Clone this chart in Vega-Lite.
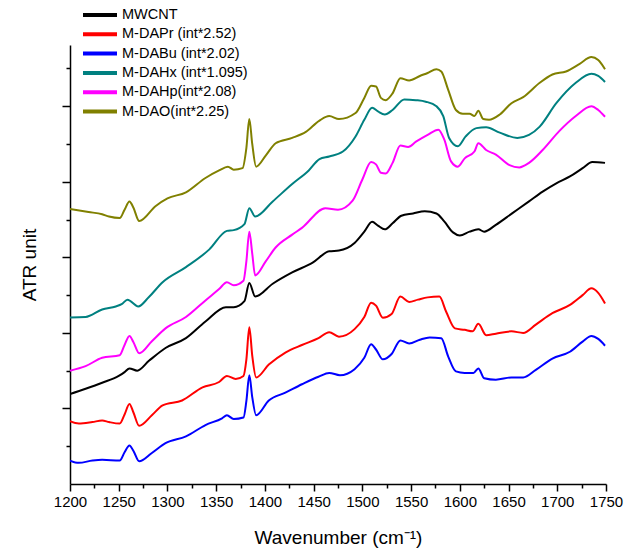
{
  "$schema": "https://vega.github.io/schema/vega-lite/v6.json",
  "width": 536,
  "height": 439,
  "autosize": {"type": "none"},
  "padding": {"left": 70, "top": 45, "right": 18, "bottom": 65},
  "background": "white",
  "config": {
    "view": {"stroke": null},
    "font": "Liberation Sans",
    "axis": {"domainColor": "black", "domainWidth": 1.5, "tickColor": "black", "tickWidth": 1.5, "grid": false, "labelColor": "black", "titleColor": "black", "labelFont": "Liberation Sans", "titleFont": "Liberation Sans", "titleFontWeight": "normal"}
  },
  "data": {"values": [
    {"s":"MWCNT","x":1200,"y":1.19},{"s":"MWCNT","x":1216,"y":1.26},{"s":"MWCNT","x":1233,"y":1.34},{"s":"MWCNT","x":1250,"y":1.43},{"s":"MWCNT","x":1256,"y":1.48},{"s":"MWCNT","x":1261,"y":1.53},{"s":"MWCNT","x":1269,"y":1.5},{"s":"MWCNT","x":1281,"y":1.63},{"s":"MWCNT","x":1298,"y":1.8},{"s":"MWCNT","x":1319,"y":1.93},{"s":"MWCNT","x":1339,"y":2.15},{"s":"MWCNT","x":1360,"y":2.34},{"s":"MWCNT","x":1368,"y":2.34},{"s":"MWCNT","x":1379,"y":2.42},{"s":"MWCNT","x":1384,"y":2.66},{"s":"MWCNT","x":1390,"y":2.48},{"s":"MWCNT","x":1408,"y":2.65},{"s":"MWCNT","x":1428,"y":2.8},{"s":"MWCNT","x":1449,"y":2.93},{"s":"MWCNT","x":1466,"y":3.08},{"s":"MWCNT","x":1476,"y":3.09},{"s":"MWCNT","x":1492,"y":3.19},{"s":"MWCNT","x":1502,"y":3.34},{"s":"MWCNT","x":1510,"y":3.47},{"s":"MWCNT","x":1516,"y":3.42},{"s":"MWCNT","x":1523,"y":3.37},{"s":"MWCNT","x":1531,"y":3.45},{"s":"MWCNT","x":1540,"y":3.55},{"s":"MWCNT","x":1552,"y":3.58},{"s":"MWCNT","x":1564,"y":3.61},{"s":"MWCNT","x":1576,"y":3.58},{"s":"MWCNT","x":1584,"y":3.475},{"s":"MWCNT","x":1593,"y":3.33},{"s":"MWCNT","x":1600,"y":3.29},{"s":"MWCNT","x":1610,"y":3.34},{"s":"MWCNT","x":1619,"y":3.37},{"s":"MWCNT","x":1625,"y":3.34},{"s":"MWCNT","x":1637,"y":3.43},{"s":"MWCNT","x":1654,"y":3.585},{"s":"MWCNT","x":1671,"y":3.74},{"s":"MWCNT","x":1685,"y":3.87},{"s":"MWCNT","x":1699,"y":3.98},{"s":"MWCNT","x":1713,"y":4.07},{"s":"MWCNT","x":1726,"y":4.18},{"s":"MWCNT","x":1736,"y":4.26},{"s":"MWCNT","x":1749,"y":4.25},

    {"s":"M-DAPr (int*2.52)","x":1200,"y":0.83},{"s":"M-DAPr (int*2.52)","x":1209,"y":0.8},{"s":"M-DAPr (int*2.52)","x":1223,"y":0.82},{"s":"M-DAPr (int*2.52)","x":1233,"y":0.84},{"s":"M-DAPr (int*2.52)","x":1240,"y":0.82},{"s":"M-DAPr (int*2.52)","x":1251,"y":0.8},{"s":"M-DAPr (int*2.52)","x":1256,"y":0.92},{"s":"M-DAPr (int*2.52)","x":1261,"y":1.06},{"s":"M-DAPr (int*2.52)","x":1265,"y":0.95},{"s":"M-DAPr (int*2.52)","x":1271,"y":0.77},{"s":"M-DAPr (int*2.52)","x":1284,"y":0.91},{"s":"M-DAPr (int*2.52)","x":1295,"y":1.04},{"s":"M-DAPr (int*2.52)","x":1315,"y":1.105},{"s":"M-DAPr (int*2.52)","x":1336,"y":1.28},{"s":"M-DAPr (int*2.52)","x":1353,"y":1.35},{"s":"M-DAPr (int*2.52)","x":1361,"y":1.43},{"s":"M-DAPr (int*2.52)","x":1370,"y":1.39},{"s":"M-DAPr (int*2.52)","x":1378,"y":1.43},{"s":"M-DAPr (int*2.52)","x":1381,"y":1.65},{"s":"M-DAPr (int*2.52)","x":1384,"y":2.075},{"s":"M-DAPr (int*2.52)","x":1387,"y":1.7},{"s":"M-DAPr (int*2.52)","x":1391,"y":1.41},{"s":"M-DAPr (int*2.52)","x":1404,"y":1.58},{"s":"M-DAPr (int*2.52)","x":1421,"y":1.74},{"s":"M-DAPr (int*2.52)","x":1438,"y":1.84},{"s":"M-DAPr (int*2.52)","x":1455,"y":1.93},{"s":"M-DAPr (int*2.52)","x":1466,"y":2.01},{"s":"M-DAPr (int*2.52)","x":1476,"y":1.95},{"s":"M-DAPr (int*2.52)","x":1492,"y":2.05},{"s":"M-DAPr (int*2.52)","x":1502,"y":2.21},{"s":"M-DAPr (int*2.52)","x":1509,"y":2.4},{"s":"M-DAPr (int*2.52)","x":1514,"y":2.36},{"s":"M-DAPr (int*2.52)","x":1521,"y":2.2},{"s":"M-DAPr (int*2.52)","x":1530,"y":2.25},{"s":"M-DAPr (int*2.52)","x":1539,"y":2.48},{"s":"M-DAPr (int*2.52)","x":1548,"y":2.41},{"s":"M-DAPr (int*2.52)","x":1557,"y":2.44},{"s":"M-DAPr (int*2.52)","x":1567,"y":2.47},{"s":"M-DAPr (int*2.52)","x":1579,"y":2.48},{"s":"M-DAPr (int*2.52)","x":1586,"y":2.28},{"s":"M-DAPr (int*2.52)","x":1595,"y":2.06},{"s":"M-DAPr (int*2.52)","x":1605,"y":2.04},{"s":"M-DAPr (int*2.52)","x":1613,"y":2.02},{"s":"M-DAPr (int*2.52)","x":1619,"y":2.12},{"s":"M-DAPr (int*2.52)","x":1627,"y":1.97},{"s":"M-DAPr (int*2.52)","x":1637,"y":1.99},{"s":"M-DAPr (int*2.52)","x":1653,"y":2.02},{"s":"M-DAPr (int*2.52)","x":1665,"y":2.0},{"s":"M-DAPr (int*2.52)","x":1678,"y":2.11},{"s":"M-DAPr (int*2.52)","x":1695,"y":2.26},{"s":"M-DAPr (int*2.52)","x":1713,"y":2.37},{"s":"M-DAPr (int*2.52)","x":1726,"y":2.5},{"s":"M-DAPr (int*2.52)","x":1735,"y":2.59},{"s":"M-DAPr (int*2.52)","x":1742,"y":2.53},{"s":"M-DAPr (int*2.52)","x":1749,"y":2.39},

    {"s":"M-DABu (int*2.02)","x":1200,"y":0.31},{"s":"M-DABu (int*2.02)","x":1209,"y":0.28},{"s":"M-DABu (int*2.02)","x":1223,"y":0.31},{"s":"M-DABu (int*2.02)","x":1233,"y":0.32},{"s":"M-DABu (int*2.02)","x":1251,"y":0.31},{"s":"M-DABu (int*2.02)","x":1256,"y":0.42},{"s":"M-DABu (int*2.02)","x":1261,"y":0.51},{"s":"M-DABu (int*2.02)","x":1265,"y":0.44},{"s":"M-DABu (int*2.02)","x":1271,"y":0.3},{"s":"M-DABu (int*2.02)","x":1284,"y":0.41},{"s":"M-DABu (int*2.02)","x":1298,"y":0.54},{"s":"M-DABu (int*2.02)","x":1319,"y":0.63},{"s":"M-DABu (int*2.02)","x":1339,"y":0.78},{"s":"M-DABu (int*2.02)","x":1356,"y":0.87},{"s":"M-DABu (int*2.02)","x":1361,"y":0.91},{"s":"M-DABu (int*2.02)","x":1368,"y":0.86},{"s":"M-DABu (int*2.02)","x":1378,"y":0.88},{"s":"M-DABu (int*2.02)","x":1381,"y":1.1},{"s":"M-DABu (int*2.02)","x":1384,"y":1.44},{"s":"M-DABu (int*2.02)","x":1387,"y":1.15},{"s":"M-DABu (int*2.02)","x":1391,"y":0.91},{"s":"M-DABu (int*2.02)","x":1404,"y":1.105},{"s":"M-DABu (int*2.02)","x":1421,"y":1.21},{"s":"M-DABu (int*2.02)","x":1438,"y":1.32},{"s":"M-DABu (int*2.02)","x":1455,"y":1.42},{"s":"M-DABu (int*2.02)","x":1466,"y":1.47},{"s":"M-DABu (int*2.02)","x":1477,"y":1.44},{"s":"M-DABu (int*2.02)","x":1492,"y":1.52},{"s":"M-DABu (int*2.02)","x":1502,"y":1.67},{"s":"M-DABu (int*2.02)","x":1509,"y":1.85},{"s":"M-DABu (int*2.02)","x":1514,"y":1.78},{"s":"M-DABu (int*2.02)","x":1521,"y":1.65},{"s":"M-DABu (int*2.02)","x":1530,"y":1.72},{"s":"M-DABu (int*2.02)","x":1539,"y":1.9},{"s":"M-DABu (int*2.02)","x":1548,"y":1.86},{"s":"M-DABu (int*2.02)","x":1559,"y":1.91},{"s":"M-DABu (int*2.02)","x":1569,"y":1.94},{"s":"M-DABu (int*2.02)","x":1581,"y":1.93},{"s":"M-DABu (int*2.02)","x":1588,"y":1.69},{"s":"M-DABu (int*2.02)","x":1596,"y":1.49},{"s":"M-DABu (int*2.02)","x":1605,"y":1.47},{"s":"M-DABu (int*2.02)","x":1614,"y":1.47},{"s":"M-DABu (int*2.02)","x":1619,"y":1.53},{"s":"M-DABu (int*2.02)","x":1625,"y":1.4},{"s":"M-DABu (int*2.02)","x":1637,"y":1.38},{"s":"M-DABu (int*2.02)","x":1653,"y":1.41},{"s":"M-DABu (int*2.02)","x":1665,"y":1.41},{"s":"M-DABu (int*2.02)","x":1678,"y":1.51},{"s":"M-DABu (int*2.02)","x":1695,"y":1.66},{"s":"M-DABu (int*2.02)","x":1713,"y":1.75},{"s":"M-DABu (int*2.02)","x":1726,"y":1.885},{"s":"M-DABu (int*2.02)","x":1735,"y":1.96},{"s":"M-DABu (int*2.02)","x":1742,"y":1.92},{"s":"M-DABu (int*2.02)","x":1749,"y":1.83},

    {"s":"M-DAHx (int*1.095)","x":1200,"y":2.205},{"s":"M-DAHx (int*1.095)","x":1216,"y":2.21},{"s":"M-DAHx (int*1.095)","x":1233,"y":2.31},{"s":"M-DAHx (int*1.095)","x":1247,"y":2.35},{"s":"M-DAHx (int*1.095)","x":1253,"y":2.38},{"s":"M-DAHx (int*1.095)","x":1259,"y":2.44},{"s":"M-DAHx (int*1.095)","x":1270,"y":2.35},{"s":"M-DAHx (int*1.095)","x":1281,"y":2.475},{"s":"M-DAHx (int*1.095)","x":1295,"y":2.67},{"s":"M-DAHx (int*1.095)","x":1319,"y":2.87},{"s":"M-DAHx (int*1.095)","x":1343,"y":3.105},{"s":"M-DAHx (int*1.095)","x":1361,"y":3.35},{"s":"M-DAHx (int*1.095)","x":1368,"y":3.36},{"s":"M-DAHx (int*1.095)","x":1379,"y":3.44},{"s":"M-DAHx (int*1.095)","x":1384,"y":3.65},{"s":"M-DAHx (int*1.095)","x":1390,"y":3.54},{"s":"M-DAHx (int*1.095)","x":1408,"y":3.74},{"s":"M-DAHx (int*1.095)","x":1428,"y":3.97},{"s":"M-DAHx (int*1.095)","x":1445,"y":4.15},{"s":"M-DAHx (int*1.095)","x":1456,"y":4.3},{"s":"M-DAHx (int*1.095)","x":1466,"y":4.335},{"s":"M-DAHx (int*1.095)","x":1480,"y":4.4},{"s":"M-DAHx (int*1.095)","x":1493,"y":4.6},{"s":"M-DAHx (int*1.095)","x":1502,"y":4.82},{"s":"M-DAHx (int*1.095)","x":1510,"y":4.98},{"s":"M-DAHx (int*1.095)","x":1516,"y":4.93},{"s":"M-DAHx (int*1.095)","x":1523,"y":4.89},{"s":"M-DAHx (int*1.095)","x":1531,"y":4.95},{"s":"M-DAHx (int*1.095)","x":1543,"y":5.09},{"s":"M-DAHx (int*1.095)","x":1555,"y":5.08},{"s":"M-DAHx (int*1.095)","x":1565,"y":5.06},{"s":"M-DAHx (int*1.095)","x":1576,"y":5.0},{"s":"M-DAHx (int*1.095)","x":1583,"y":4.87},{"s":"M-DAHx (int*1.095)","x":1589,"y":4.58},{"s":"M-DAHx (int*1.095)","x":1598,"y":4.47},{"s":"M-DAHx (int*1.095)","x":1606,"y":4.6},{"s":"M-DAHx (int*1.095)","x":1617,"y":4.71},{"s":"M-DAHx (int*1.095)","x":1627,"y":4.72},{"s":"M-DAHx (int*1.095)","x":1641,"y":4.65},{"s":"M-DAHx (int*1.095)","x":1659,"y":4.58},{"s":"M-DAHx (int*1.095)","x":1671,"y":4.62},{"s":"M-DAHx (int*1.095)","x":1682,"y":4.73},{"s":"M-DAHx (int*1.095)","x":1699,"y":5.04},{"s":"M-DAHx (int*1.095)","x":1719,"y":5.31},{"s":"M-DAHx (int*1.095)","x":1735,"y":5.43},{"s":"M-DAHx (int*1.095)","x":1742,"y":5.4},{"s":"M-DAHx (int*1.095)","x":1749,"y":5.32},

    {"s":"M-DAHp(int*2.08)","x":1200,"y":1.5},{"s":"M-DAHp(int*2.08)","x":1216,"y":1.56},{"s":"M-DAHp(int*2.08)","x":1233,"y":1.67},{"s":"M-DAHp(int*2.08)","x":1251,"y":1.705},{"s":"M-DAHp(int*2.08)","x":1256,"y":1.84},{"s":"M-DAHp(int*2.08)","x":1261,"y":1.96},{"s":"M-DAHp(int*2.08)","x":1265,"y":1.88},{"s":"M-DAHp(int*2.08)","x":1271,"y":1.73},{"s":"M-DAHp(int*2.08)","x":1284,"y":1.89},{"s":"M-DAHp(int*2.08)","x":1298,"y":2.06},{"s":"M-DAHp(int*2.08)","x":1319,"y":2.21},{"s":"M-DAHp(int*2.08)","x":1339,"y":2.43},{"s":"M-DAHp(int*2.08)","x":1353,"y":2.58},{"s":"M-DAHp(int*2.08)","x":1361,"y":2.67},{"s":"M-DAHp(int*2.08)","x":1368,"y":2.63},{"s":"M-DAHp(int*2.08)","x":1378,"y":2.69},{"s":"M-DAHp(int*2.08)","x":1381,"y":2.95},{"s":"M-DAHp(int*2.08)","x":1384,"y":3.34},{"s":"M-DAHp(int*2.08)","x":1387,"y":3.05},{"s":"M-DAHp(int*2.08)","x":1390,"y":2.76},{"s":"M-DAHp(int*2.08)","x":1401,"y":2.95},{"s":"M-DAHp(int*2.08)","x":1411,"y":3.13},{"s":"M-DAHp(int*2.08)","x":1428,"y":3.3},{"s":"M-DAHp(int*2.08)","x":1438,"y":3.39},{"s":"M-DAHp(int*2.08)","x":1462,"y":3.65},{"s":"M-DAHp(int*2.08)","x":1475,"y":3.63},{"s":"M-DAHp(int*2.08)","x":1490,"y":3.75},{"s":"M-DAHp(int*2.08)","x":1500,"y":4.03},{"s":"M-DAHp(int*2.08)","x":1509,"y":4.26},{"s":"M-DAHp(int*2.08)","x":1514,"y":4.23},{"s":"M-DAHp(int*2.08)","x":1519,"y":4.12},{"s":"M-DAHp(int*2.08)","x":1524,"y":4.11},{"s":"M-DAHp(int*2.08)","x":1531,"y":4.25},{"s":"M-DAHp(int*2.08)","x":1539,"y":4.48},{"s":"M-DAHp(int*2.08)","x":1547,"y":4.46},{"s":"M-DAHp(int*2.08)","x":1555,"y":4.53},{"s":"M-DAHp(int*2.08)","x":1567,"y":4.62},{"s":"M-DAHp(int*2.08)","x":1578,"y":4.69},{"s":"M-DAHp(int*2.08)","x":1584,"y":4.56},{"s":"M-DAHp(int*2.08)","x":1591,"y":4.27},{"s":"M-DAHp(int*2.08)","x":1598,"y":4.2},{"s":"M-DAHp(int*2.08)","x":1605,"y":4.31},{"s":"M-DAHp(int*2.08)","x":1615,"y":4.4},{"s":"M-DAHp(int*2.08)","x":1619,"y":4.51},{"s":"M-DAHp(int*2.08)","x":1627,"y":4.42},{"s":"M-DAHp(int*2.08)","x":1637,"y":4.36},{"s":"M-DAHp(int*2.08)","x":1651,"y":4.22},{"s":"M-DAHp(int*2.08)","x":1661,"y":4.19},{"s":"M-DAHp(int*2.08)","x":1671,"y":4.25},{"s":"M-DAHp(int*2.08)","x":1685,"y":4.42},{"s":"M-DAHp(int*2.08)","x":1702,"y":4.67},{"s":"M-DAHp(int*2.08)","x":1719,"y":4.87},{"s":"M-DAHp(int*2.08)","x":1735,"y":5.0},{"s":"M-DAHp(int*2.08)","x":1742,"y":4.95},{"s":"M-DAHp(int*2.08)","x":1749,"y":4.86},

    {"s":"M-DAO(int*2.25)","x":1200,"y":3.64},{"s":"M-DAO(int*2.25)","x":1219,"y":3.6},{"s":"M-DAO(int*2.25)","x":1233,"y":3.57},{"s":"M-DAO(int*2.25)","x":1240,"y":3.54},{"s":"M-DAO(int*2.25)","x":1251,"y":3.52},{"s":"M-DAO(int*2.25)","x":1256,"y":3.63},{"s":"M-DAO(int*2.25)","x":1261,"y":3.74},{"s":"M-DAO(int*2.25)","x":1265,"y":3.66},{"s":"M-DAO(int*2.25)","x":1271,"y":3.48},{"s":"M-DAO(int*2.25)","x":1288,"y":3.68},{"s":"M-DAO(int*2.25)","x":1300,"y":3.78},{"s":"M-DAO(int*2.25)","x":1319,"y":3.86},{"s":"M-DAO(int*2.25)","x":1339,"y":4.05},{"s":"M-DAO(int*2.25)","x":1353,"y":4.15},{"s":"M-DAO(int*2.25)","x":1362,"y":4.2},{"s":"M-DAO(int*2.25)","x":1368,"y":4.16},{"s":"M-DAO(int*2.25)","x":1377,"y":4.18},{"s":"M-DAO(int*2.25)","x":1381,"y":4.45},{"s":"M-DAO(int*2.25)","x":1384,"y":4.83},{"s":"M-DAO(int*2.25)","x":1387,"y":4.5},{"s":"M-DAO(int*2.25)","x":1391,"y":4.2},{"s":"M-DAO(int*2.25)","x":1401,"y":4.35},{"s":"M-DAO(int*2.25)","x":1411,"y":4.51},{"s":"M-DAO(int*2.25)","x":1428,"y":4.58},{"s":"M-DAO(int*2.25)","x":1442,"y":4.66},{"s":"M-DAO(int*2.25)","x":1456,"y":4.81},{"s":"M-DAO(int*2.25)","x":1466,"y":4.87},{"s":"M-DAO(int*2.25)","x":1476,"y":4.83},{"s":"M-DAO(int*2.25)","x":1493,"y":4.91},{"s":"M-DAO(int*2.25)","x":1502,"y":5.11},{"s":"M-DAO(int*2.25)","x":1509,"y":5.27},{"s":"M-DAO(int*2.25)","x":1514,"y":5.26},{"s":"M-DAO(int*2.25)","x":1519,"y":5.11},{"s":"M-DAO(int*2.25)","x":1524,"y":5.08},{"s":"M-DAO(int*2.25)","x":1531,"y":5.17},{"s":"M-DAO(int*2.25)","x":1539,"y":5.37},{"s":"M-DAO(int*2.25)","x":1548,"y":5.34},{"s":"M-DAO(int*2.25)","x":1559,"y":5.4},{"s":"M-DAO(int*2.25)","x":1567,"y":5.44},{"s":"M-DAO(int*2.25)","x":1576,"y":5.49},{"s":"M-DAO(int*2.25)","x":1581,"y":5.46},{"s":"M-DAO(int*2.25)","x":1588,"y":5.22},{"s":"M-DAO(int*2.25)","x":1596,"y":4.95},{"s":"M-DAO(int*2.25)","x":1603,"y":4.9},{"s":"M-DAO(int*2.25)","x":1610,"y":4.9},{"s":"M-DAO(int*2.25)","x":1615,"y":4.87},{"s":"M-DAO(int*2.25)","x":1619,"y":4.94},{"s":"M-DAO(int*2.25)","x":1624,"y":4.83},{"s":"M-DAO(int*2.25)","x":1630,"y":4.82},{"s":"M-DAO(int*2.25)","x":1641,"y":4.89},{"s":"M-DAO(int*2.25)","x":1653,"y":5.04},{"s":"M-DAO(int*2.25)","x":1665,"y":5.12},{"s":"M-DAO(int*2.25)","x":1682,"y":5.31},{"s":"M-DAO(int*2.25)","x":1695,"y":5.42},{"s":"M-DAO(int*2.25)","x":1709,"y":5.46},{"s":"M-DAO(int*2.25)","x":1723,"y":5.56},{"s":"M-DAO(int*2.25)","x":1735,"y":5.65},{"s":"M-DAO(int*2.25)","x":1742,"y":5.61},{"s":"M-DAO(int*2.25)","x":1749,"y":5.49}
  ]},
  "mark": {"type": "line", "strokeWidth": 2, "clip": true, "interpolate": "monotone"},
  "encoding": {
    "x": {
      "field": "x", "type": "quantitative",
      "scale": {"domain": [1200, 1750], "nice": false, "zero": false},
      "axis": {
        "title": "Wavenumber (cm⁻¹)",
        "titleFontSize": 19, "titlePadding": 19,
        "values": [1200,1225,1250,1275,1300,1325,1350,1375,1400,1425,1450,1475,1500,1525,1550,1575,1600,1625,1650,1675,1700,1725,1750],
        "format": "d",
        "labelExpr": "datum.value % 50 === 0 ? datum.label : ''",
        "labelFontSize": 15, "labelPadding": 3, "labelFlush": false, "labelOverlap": false,
        "tickSize": {"condition": {"test": "datum.value % 50 === 0", "value": 7}, "value": 4}
      }
    },
    "y": {
      "field": "y", "type": "quantitative",
      "scale": {"domain": [0, 5.81], "nice": false, "zero": false},
      "axis": {
        "title": "ATR unit",
        "titleFontSize": 19, "titlePadding": 22,
        "values": [0.5,1,1.5,2,2.5,3,3.5,4,4.5,5,5.5],
        "labels": false,
        "tickSize": {"condition": {"test": "datum.value % 1 === 0", "value": 8}, "value": 4}
      }
    },
    "color": {
      "field": "s", "type": "nominal",
      "scale": {
        "domain": ["MWCNT","M-DAPr (int*2.52)","M-DABu (int*2.02)","M-DAHx (int*1.095)","M-DAHp(int*2.08)","M-DAO(int*2.25)"],
        "range": ["#000000","#ff0000","#0000ff","#008080","#ff00ff","#808000"]
      },
      "legend": {
        "title": null,
        "orient": "none",
        "legendX": 11,
        "legendY": -37,
        "padding": 0,
        "symbolType": "stroke",
        "symbolSize": 1156,
        "symbolStrokeWidth": 4,
        "clipHeight": 14,
        "rowPadding": 4.3,
        "labelOffset": 3,
        "labelFontSize": 14.5,
        "labelFont": "Liberation Sans",
        "labelColor": "black",
        "labelLimit": 300
      }
    }
  }
}
